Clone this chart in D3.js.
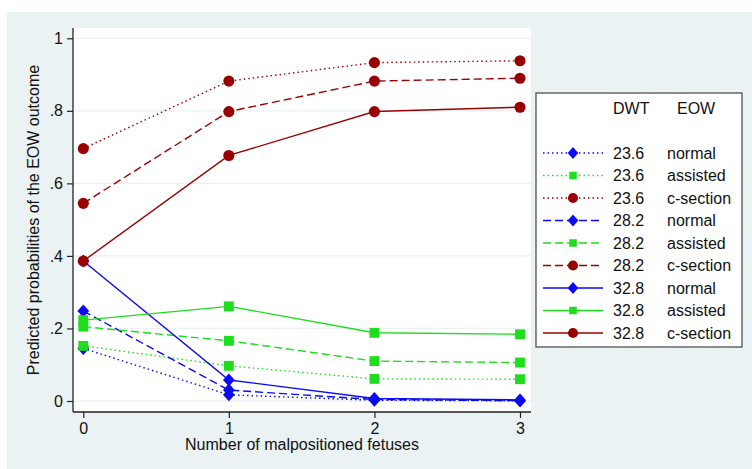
<!DOCTYPE html>
<html lang="en">
  <head>
    <meta charset="utf-8">
    <title>Predicted probabilities of EOW outcome</title>
    <script src="https://d3js.org/d3.v7.js"></script>
    <style>
      body { margin: 0; background: white; }
      text { font-family: "Liberation Sans", Arial, sans-serif; font-size: 16px; fill: #111; }
    </style>
  </head>
  <body>
    <script type="text/javascript">

      // data
      var malpositioned = [0, 1, 2, 3];
      var dwtLevels = ["23.6", "28.2", "32.8"];
      var eowLevels = ["normal", "assisted", "c-section"];

      var normal236   = [0.145, 0.017, 0.002, 0.0005];
      var assisted236 = [0.152, 0.097, 0.061, 0.060];
      var csection236 = [0.696, 0.882, 0.933, 0.938];
      var normal282   = [0.248, 0.030, 0.004, 0.001];
      var assisted282 = [0.205, 0.166, 0.110, 0.106];
      var csection282 = [0.545, 0.798, 0.882, 0.890];
      var normal328   = [0.386, 0.058, 0.007, 0.003];
      var assisted328 = [0.223, 0.261, 0.188, 0.184];
      var csection328 = [0.386, 0.677, 0.798, 0.810];

      var yTicks = [0, 0.2, 0.4, 0.6, 0.8, 1];
      var yTickLabels = ["0", ".2", ".4", ".6", ".8", "1"];

      var series = [
        {dwt: dwtLevels[0], eow: eowLevels[0], values: normal236},
        {dwt: dwtLevels[0], eow: eowLevels[1], values: assisted236},
        {dwt: dwtLevels[0], eow: eowLevels[2], values: csection236},
        {dwt: dwtLevels[1], eow: eowLevels[0], values: normal282},
        {dwt: dwtLevels[1], eow: eowLevels[1], values: assisted282},
        {dwt: dwtLevels[1], eow: eowLevels[2], values: csection282},
        {dwt: dwtLevels[2], eow: eowLevels[0], values: normal328},
        {dwt: dwtLevels[2], eow: eowLevels[1], values: assisted328},
        {dwt: dwtLevels[2], eow: eowLevels[2], values: csection328}
      ];

      // styles
      var colors = {"normal": "#0a0af5", "assisted": "#1ddd1d", "c-section": "#990000"};
      var dashes = {"23.6": "1.5,3", "28.2": "8,4", "32.8": null};

      var w = 752, h = 469;
      var plot = {left: 73, right: 531, top: 28, bottom: 412};

      var xScale = d3.scaleLinear().domain([0, 3]).range([83.3, 520]);
      var yScale = d3.scaleLinear().domain([0, 1]).range([401, 38.3]);

      var svg = d3.select("body").append("svg")
        .attr("width", w)
        .attr("height", h);

      // outer background
      svg.append("rect")
        .attr("x", 7).attr("y", 12)
        .attr("width", w - 7).attr("height", h - 12)
        .attr("fill", "#eaf2f3");

      // plot region
      svg.append("rect")
        .attr("x", plot.left).attr("y", plot.top)
        .attr("width", plot.right - plot.left).attr("height", plot.bottom - plot.top)
        .attr("fill", "white");

      // grid lines
      svg.append("g").selectAll("line")
        .data(yTicks).enter().append("line")
        .attr("x1", plot.left).attr("x2", plot.right)
        .attr("y1", d => yScale(d)).attr("y2", d => yScale(d))
        .attr("stroke", "#eaf2f3").attr("stroke-width", 1.3);

      // axes
      var yAxis = d3.axisLeft(yScale)
        .tickValues(yTicks)
        .tickSize(6)
        .tickPadding(4)
        .tickFormat((d, i) => yTickLabels[i]);
      var xAxis = d3.axisBottom(xScale)
        .tickValues(malpositioned)
        .tickSize(6)
        .tickPadding(5)
        .tickFormat(d3.format("d"));

      var gy = svg.append("g")
        .attr("transform", `translate(${plot.left},0)`)
        .call(yAxis);
      var gx = svg.append("g")
        .attr("transform", `translate(0,${plot.bottom})`)
        .call(xAxis);

      [gx, gy].forEach(function(g) {
        g.select(".domain").remove();
        g.selectAll(".tick line").attr("stroke", "#222").attr("stroke-width", 1.2);
        g.selectAll(".tick text").style("font-size", "16px").attr("fill", "#111");
      });

      svg.append("line")
        .attr("x1", plot.left).attr("x2", plot.left)
        .attr("y1", plot.top).attr("y2", plot.bottom)
        .attr("stroke", "#222").attr("stroke-width", 1.3);
      svg.append("line")
        .attr("x1", plot.left).attr("x2", plot.right)
        .attr("y1", plot.bottom).attr("y2", plot.bottom)
        .attr("stroke", "#222").attr("stroke-width", 1.3);

      // axis titles
      svg.append("text")
        .attr("x", (plot.left + plot.right) / 2)
        .attr("y", 450)
        .attr("text-anchor", "middle")
        .text("Number of malpositioned fetuses");

      svg.append("text")
        .attr("transform", "translate(39,220) rotate(-90)")
        .attr("text-anchor", "middle")
        .text("Predicted probabilities of the EOW outcome");

      // markers
      function drawMarker(g, eow, size) {
        var c = colors[eow];
        if (eow === "normal") {
          var s = size * 0.62;
          g.append("path")
            .attr("d", `M0,${-s}L${s * 0.9},0L0,${s}L${-s * 0.9},0Z`)
            .attr("fill", c);
        } else if (eow === "assisted") {
          var q = size * 0.47;
          g.append("rect")
            .attr("x", -q).attr("y", -q)
            .attr("width", 2 * q).attr("height", 2 * q)
            .attr("fill", c);
        } else {
          g.append("circle").attr("r", size * 0.53).attr("fill", c);
        }
      }

      var line = d3.line()
        .x((d, i) => xScale(malpositioned[i]))
        .y(d => yScale(d));

      var chart = svg.append("g").attr("id", "plot");

      series.forEach(function(s) {
        var g = chart.append("g");
        g.append("path")
          .attr("d", line(s.values))
          .attr("fill", "none")
          .attr("stroke", colors[s.eow])
          .attr("stroke-width", 1.4)
          .attr("stroke-dasharray", dashes[s.dwt]);
        s.values.forEach(function(v, i) {
          var m = g.append("g")
            .attr("transform", `translate(${xScale(malpositioned[i])},${yScale(v)})`);
          drawMarker(m, s.eow, 10.5);
        });
      });

      // legend
      var leg = svg.append("g").attr("transform", "translate(536,93)");
      leg.append("rect")
        .attr("x", 0).attr("y", 0)
        .attr("width", 206).attr("height", 254)
        .attr("fill", "white")
        .attr("stroke", "#444")
        .attr("stroke-width", 1.2);

      leg.append("text").attr("x", 77).attr("y", 21).text("DWT");
      leg.append("text").attr("x", 141).attr("y", 21).text("EOW");

      var rowY = d3.scaleLinear().domain([0, 8]).range([60, 240]);

      series.forEach(function(s, i) {
        var row = leg.append("g").attr("transform", `translate(0,${rowY(i)})`);
        row.append("line")
          .attr("x1", 7).attr("x2", 67)
          .attr("y1", 0).attr("y2", 0)
          .attr("stroke", colors[s.eow])
          .attr("stroke-width", 1.4)
          .attr("stroke-dasharray", dashes[s.dwt]);
        var m = row.append("g").attr("transform", "translate(37,0)");
        drawMarker(m, s.eow, s.eow === "assisted" ? 8 : 9.5);
        row.append("text").attr("x", 77).attr("y", 5.5).text(s.dwt);
        row.append("text").attr("x", 131).attr("y", 5.5).text(s.eow);
      });

    </script>
  </body>
</html>
